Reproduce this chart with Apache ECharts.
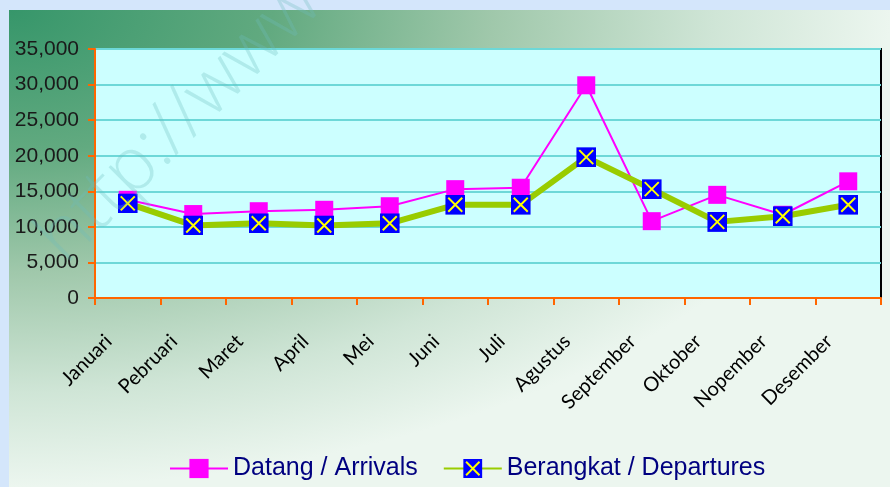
<!DOCTYPE html>
<html>
<head>
<meta charset="utf-8">
<script src="https://cdn.jsdelivr.net/npm/echarts@6/dist/echarts.min.js"></script>
<style>
  html, body { margin: 0; padding: 0; background: #d4e6fb; }
  #chart { width: 890px; height: 487px; }
</style>
</head>
<body>
<div id="chart"></div>
<script>
const months = ['Januari', 'Pebruari', 'Maret', 'April', 'Mei', 'Juni', 'Juli',
  'Agustus', 'September', 'Oktober', 'Nopember', 'Desember']
const arrivals = [13800, 11800, 12200, 12400, 12900, 15300, 15500, 29900, 10800, 14500, 11700, 16400]
const departures = [13300, 10200, 10500, 10200, 10500, 13100, 13100, 19800, 15300, 10700, 11500, 13100]
const yTicks = [0, 5000, 10000, 15000, 20000, 25000, 30000, 35000]

// panel background: elliptical radial gradient from the top-left corner
const panelSvg =
  "<svg xmlns='http://www.w3.org/2000/svg' width='881' height='477'>" +
  "<defs><radialGradient id='g' cx='0' cy='0' r='1'>" +
  "<stop offset='0' stop-color='#36966a'/>" +
  "<stop offset='0.3' stop-color='#62aa80'/>" +
  "<stop offset='0.55' stop-color='#a0c8ab'/>" +
  "<stop offset='0.8' stop-color='#cfe5d6'/>" +
  "<stop offset='1' stop-color='#ecf6ef'/>" +
  "</radialGradient></defs>" +
  "<rect width='881' height='477' fill='url(#g)'/></svg>"
const panelImg = 'data:image/svg+xml;charset=utf-8,' + encodeURIComponent(panelSvg)

// blue square with yellow cross for departures
const crossSvg =
  "<svg xmlns='http://www.w3.org/2000/svg' width='20' height='20'>" +
  "<rect width='20' height='20' fill='#0000ff'/>" +
  "<path d='M3 3L17 17M17 3L3 17' stroke='#ffff00' stroke-width='2'/></svg>"
const crossSymbol = 'image://data:image/svg+xml;charset=utf-8,' + encodeURIComponent(crossSvg)

const chart = echarts.init(document.getElementById('chart'))
const option = {
  backgroundColor: '#d4e6fb',
  animation: false,
  graphic: [
    {
      type: 'rect', left: 9, top: 10, z: -20, silent: true,
      shape: { width: 881, height: 477 },
      style: { fill: '#cfe5d6' }
    },
    {
      type: 'image', left: 9, top: 10, z: -10, silent: true,
      style: { image: panelImg, width: 881, height: 477 }
    },
    {
      type: 'text', x: 77, y: 277, rotation: Math.PI / 4, z: 100, silent: true,
      style: {
        text: 'http://www',
        font: '300 74px "Open Sans", sans-serif',
        fill: 'rgba(110, 190, 190, 0.3)',
        textAlign: 'left',
        textVerticalAlign: 'bottom'
      }
    }
  ],
  grid: {
    left: 95,
    top: 49,
    right: 9,
    bottom: 189,
    outerBoundsMode: 'none',
    show: true,
    backgroundColor: '#ccffff',
    borderColor: '#000',
    borderWidth: 2
  },
  legend: {
    left: 164,
    top: 451,
    itemWidth: 58,
    itemHeight: 24,
    itemGap: 25,
    textStyle: {
      color: '#000080',
      fontFamily: 'Liberation Sans',
      fontSize: 25
    },
    data: ['Datang / Arrivals', 'Berangkat / Departures']
  },
  xAxis: {
    type: 'category',
    data: months,
    boundaryGap: true,
    axisLine: { lineStyle: { color: '#ff6600', width: 2 } },
    axisTick: { show: true, length: 7, lineStyle: { color: '#ff6600', width: 2 } },
    axisLabel: {
      rotate: 45,
      interval: 0,
      margin: 21,
      padding: [0, 27, 0, 0],
      color: '#000',
      fontFamily: 'Lato',
      fontSize: 20
    }
  },
  yAxis: {
    type: 'value',
    min: yTicks[0],
    max: yTicks[yTicks.length - 1],
    interval: 5000,
    axisLine: { show: true, lineStyle: { color: '#ff6600', width: 2 } },
    axisTick: { show: true, length: 7, lineStyle: { color: '#ff6600', width: 2 } },
    splitLine: { lineStyle: { color: '#6dd8d8', width: 2 } },
    axisLabel: {
      margin: 16,
      color: '#1a1a1a',
      fontFamily: 'Liberation Sans',
      fontSize: 21,
      formatter: v => v.toLocaleString('en-US')
    }
  },
  series: [
    {
      name: 'Datang / Arrivals',
      type: 'line',
      data: arrivals,
      symbol: 'rect',
      symbolSize: 18,
      color: '#ff00ff',
      lineStyle: { color: '#ff00ff', width: 2 },
      itemStyle: { color: '#ff00ff' },
      z: 2
    },
    {
      name: 'Berangkat / Departures',
      type: 'line',
      data: departures,
      symbol: crossSymbol,
      symbolSize: 20,
      color: '#99cc00',
      lineStyle: { color: '#99cc00', width: 6 },
      itemStyle: { color: '#0000ff' },
      z: 3
    }
  ]
}
chart.setOption(option)
</script>
</body>
</html>
